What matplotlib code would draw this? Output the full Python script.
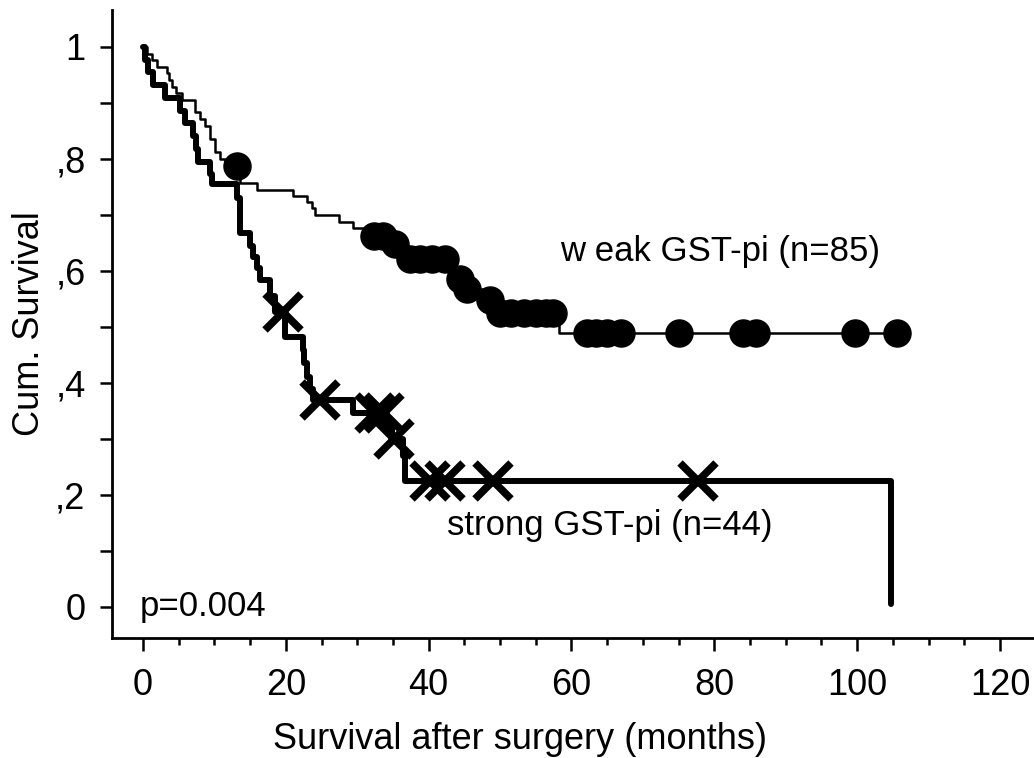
import numpy as np
import matplotlib
matplotlib.use("Agg")
import matplotlib.pyplot as plt

plt.rcParams['font.family'] = ['Liberation Sans', 'DejaVu Sans']

# ---- data ----
# strong GST-pi (thick line, x = censored)
strong_times = [0, 0.28, 0.75, 1.44, 3.1, 5.2, 5.9, 7.0, 7.4, 7.75, 9.4, 9.6,
                13.2, 13.6, 15.0, 15.4, 15.9, 16.4, 17.8, 18.5, 19.9, 22.4,
                22.6, 23.0, 23.4, 23.8, 29.4, 34.2, 34.8, 36.4, 36.7, 104.8]
strong_surv = [1.0, 0.977, 0.955, 0.932, 0.909, 0.886, 0.864, 0.841, 0.818,
               0.795, 0.773, 0.755, 0.73, 0.668, 0.645, 0.625, 0.605, 0.584,
               0.555, 0.527, 0.482, 0.458, 0.436, 0.41, 0.39, 0.37, 0.346,
               0.322, 0.30, 0.27, 0.225, 0.005]
strong_censor = [19.6, 24.8, 32.5, 33.8, 35.2, 40.2, 42.3, 49.0, 77.7]

# weak GST-pi (thin line, filled circles = censored)
weak_times = [0, 0.6, 1.2, 2.0, 3.3, 3.6, 4.0, 4.6, 5.5, 7.3, 8.0, 8.7, 9.4,
              10.1, 10.8, 11.5, 13.6, 16.0, 21.0, 22.9, 23.6, 24.1, 27.4,
              29.4, 30.8, 34.5, 36.8, 43.5, 45.0, 47.6, 49.6, 58.2]
weak_surv = [1.0, 0.988, 0.976, 0.965, 0.953, 0.941, 0.929, 0.918, 0.906,
             0.884, 0.871, 0.859, 0.835, 0.812, 0.80, 0.788, 0.757, 0.745,
             0.733, 0.724, 0.712, 0.70, 0.688, 0.676, 0.662, 0.648, 0.622,
             0.585, 0.567, 0.548, 0.525, 0.49]
weak_end = 105.6
weak_censor = [13.1, 32.3, 33.6, 35.3, 37.4, 38.8, 40.5, 42.3, 44.4, 45.4,
               48.6, 50.0, 51.6, 53.3, 55.0, 56.5, 57.4, 62.2, 63.5, 65.0,
               66.9, 75.0, 84.0, 85.8, 99.7, 105.6]

x_ticks = [0, 20, 40, 60, 80, 100, 120]
x_ticklabels = ["0", "20", "40", "60", "80", "100", "120"]
y_ticks = [0, 0.2, 0.4, 0.6, 0.8, 1.0]
y_ticklabels = ["0", ",2", ",4", ",6", ",8", "1"]

label_weak = "w eak GST-pi (n=85)"
label_strong = "strong GST-pi (n=44)"
p_text = "p=0.004"


def level_at(times, levels, t):
    idx = np.searchsorted(np.asarray(times), t, side="right") - 1
    return np.asarray(levels)[idx]


fig = plt.figure(figsize=(10.34, 7.58), dpi=100)
ax = fig.add_axes([0.1083, 0.1583, 0.8917, 0.8285])

# weak curve
wt = list(weak_times) + [weak_end]
ws = list(weak_surv) + [weak_surv[-1]]
ax.step(wt, ws, where="post", color="black", lw=1.8, zorder=2)
ax.plot(weak_censor, level_at(weak_times, weak_surv, weak_censor), "o",
        color="black", ms=19.5, zorder=3)

# strong curve
ax.step(strong_times, strong_surv, where="post", color="black", lw=4.3,
        solid_capstyle="round", zorder=2)
ax.plot(strong_censor, level_at(strong_times, strong_surv, strong_censor), "x",
        color="black", ms=26, mew=5.5, zorder=3)

ax.set_xlim(-4.34, 124.76)
ax.set_ylim(-0.0554, 1.066)

for s in ["top", "right"]:
    ax.spines[s].set_visible(False)
for s in ["left", "bottom"]:
    ax.spines[s].set_linewidth(2)

ax.set_xticks(x_ticks)
ax.set_xticklabels(x_ticklabels)
ax.set_xticks(np.arange(0, 125, 5), minor=True)
ax.set_yticks(y_ticks)
ax.set_yticklabels(y_ticklabels)
ax.set_yticks(np.arange(0, 1.05, 0.1), minor=True)

ax.tick_params(axis="x", which="major", length=9.5, width=1.8, pad=12,
               labelsize=26)
ax.tick_params(axis="x", which="minor", length=5, width=1.8)
ax.tick_params(axis="y", which="both", length=9, width=1.8, pad=10,
               labelsize=26)

ax.set_xlabel("Survival after surgery (months)", fontsize=26)
ax.xaxis.set_label_coords(0.4425, -0.162)
ax.xaxis.label.set_va("center")
ax.set_ylabel("Cum. Survival", fontsize=26, labelpad=6)

ax.text(58.4, 0.634, label_weak, fontsize=25, va="center", ha="left")
ax.text(42.6, 0.146, label_strong, fontsize=25, va="center", ha="left")
ax.text(-0.4, 0.0, p_text, fontsize=25, va="center", ha="left")

fig.savefig("out.png", dpi=100)
